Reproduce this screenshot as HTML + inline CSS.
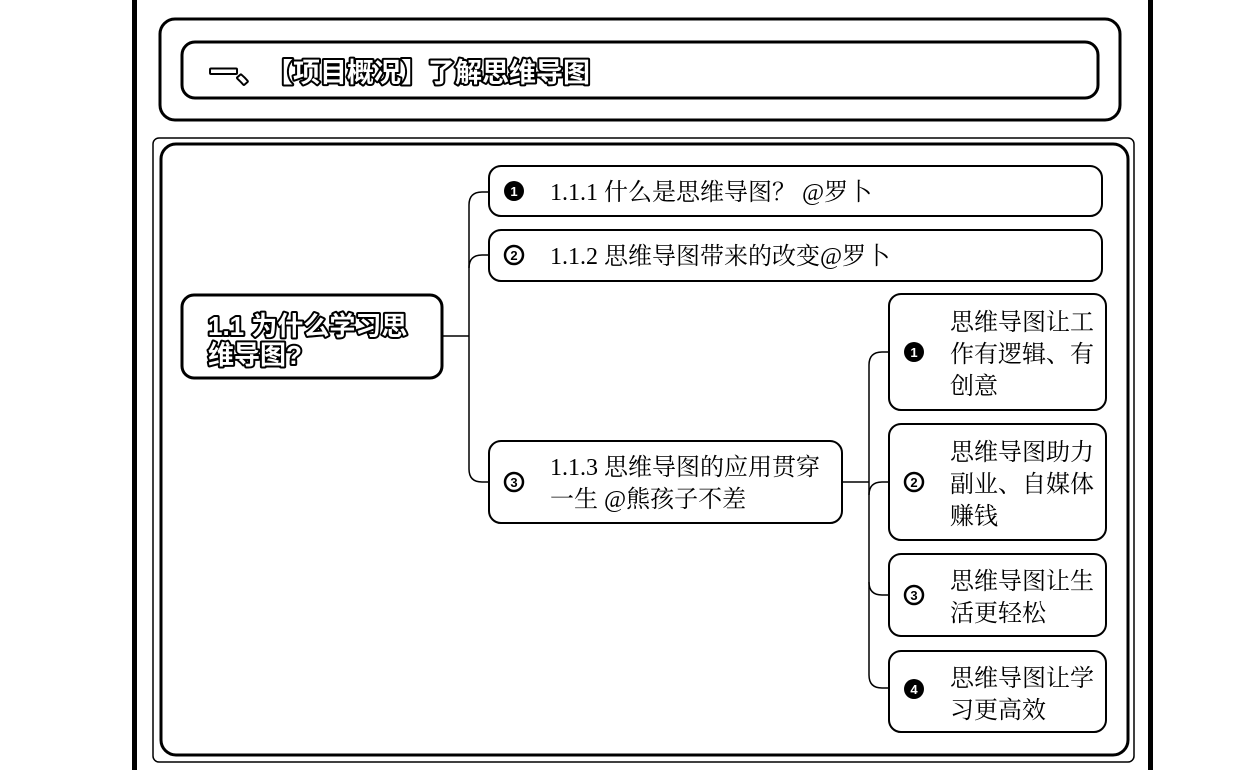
<!DOCTYPE html>
<html><head><meta charset="utf-8"><style>
html,body{margin:0;padding:0;background:#fff;width:1238px;height:770px;overflow:hidden}
svg text{font-family:"Liberation Serif","Noto Serif CJK SC",serif;font-size:24px;fill:#000}
.o{font-family:"Liberation Sans","Noto Sans CJK SC",sans-serif;font-weight:bold;fill:#fff;stroke:#000;stroke-width:4px;paint-order:stroke;stroke-linejoin:round}
.ic{font-family:"Liberation Sans",sans-serif;font-weight:bold;font-size:13px}
</style></head><body>
<svg width="1238" height="770" viewBox="0 0 1238 770" xmlns="http://www.w3.org/2000/svg">
<rect x="132" y="0" width="5" height="770" fill="#000"/>
<rect x="1148" y="0" width="5" height="770" fill="#000"/>
<g fill="none" stroke="#000">
<rect x="160" y="19" width="960" height="101" rx="15" stroke-width="3"/>
<rect x="182" y="42" width="916" height="56" rx="13" stroke-width="3"/>
<rect x="153" y="138" width="981" height="624" rx="6" stroke-width="1.5"/>
<rect x="161" y="144" width="967" height="611" rx="15" stroke-width="3"/>
<rect x="182" y="295" width="260" height="83" rx="12" stroke-width="3"/>
<g stroke-width="2">
<rect x="489" y="166" width="613" height="50" rx="12"/>
<rect x="489" y="230" width="613" height="51" rx="12"/>
<rect x="489" y="441" width="353" height="82" rx="12"/>
<rect x="889" y="294" width="217" height="116" rx="12"/>
<rect x="889" y="424" width="217" height="116" rx="12"/>
<rect x="889" y="554" width="217" height="82" rx="12"/>
<rect x="889" y="651" width="217" height="81" rx="12"/>
</g>
<g stroke-width="1.5">
<path d="M443 336 H469"/>
<path d="M489 192 H482 Q469 192 469 205 V469 Q469 482 482 482 H489"/>
<path d="M469 268 Q469 255 482 255 H489"/>
<path d="M843 482 H869"/>
<path d="M889 352 H882 Q869 352 869 365 V675 Q869 688 882 688 H889"/>
<path d="M869 495 Q869 482 882 482 H889"/>
<path d="M869 582 Q869 595 882 595 H889"/>
</g>
</g>
<text x="210" y="82" class="o" style="font-size:27px">一、</text>
<text x="266" y="82" class="o" style="font-size:27px">【项目概况】了解思维导图</text>
<text x="208" y="335" class="o" style="font-size:26px">1.1 为什么学习思</text>
<text x="208" y="364" class="o" style="font-size:26px">维导图?</text>
<g>
<circle cx="514" cy="191" r="10" fill="#000"/><text x="514" y="196" class="ic" text-anchor="middle" style="fill:#fff">1</text>
<circle cx="514" cy="255" r="9" fill="none" stroke="#000" stroke-width="2.5"/><text x="514" y="260" class="ic" text-anchor="middle">2</text>
<circle cx="514" cy="482" r="9" fill="none" stroke="#000" stroke-width="2.5"/><text x="514" y="487" class="ic" text-anchor="middle">3</text>
<circle cx="914" cy="352" r="10" fill="#000"/><text x="914" y="357" class="ic" text-anchor="middle" style="fill:#fff">1</text>
<circle cx="914" cy="482" r="9" fill="none" stroke="#000" stroke-width="2.5"/><text x="914" y="487" class="ic" text-anchor="middle">2</text>
<circle cx="914" cy="595" r="9" fill="none" stroke="#000" stroke-width="2.5"/><text x="914" y="600" class="ic" text-anchor="middle">3</text>
<circle cx="914" cy="689" r="10" fill="#000"/><text x="914" y="694" class="ic" text-anchor="middle" style="fill:#fff">4</text>
</g>
<text x="550" y="200">1.1.1 什么是思维导图？ @罗卜</text>
<text x="550" y="264">1.1.2 思维导图带来的改变@罗卜</text>
<text x="550" y="475">1.1.3 思维导图的应用贯穿</text>
<text x="550" y="507">一生 @熊孩子不差</text>
<text x="950" y="330">思维导图让工</text>
<text x="950" y="362">作有逻辑、有</text>
<text x="950" y="394">创意</text>
<text x="950" y="460">思维导图助力</text>
<text x="950" y="492">副业、自媒体</text>
<text x="950" y="524">赚钱</text>
<text x="950" y="589">思维导图让生</text>
<text x="950" y="621">活更轻松</text>
<text x="950" y="686">思维导图让学</text>
<text x="950" y="718">习更高效</text>
</svg>
</body></html>
